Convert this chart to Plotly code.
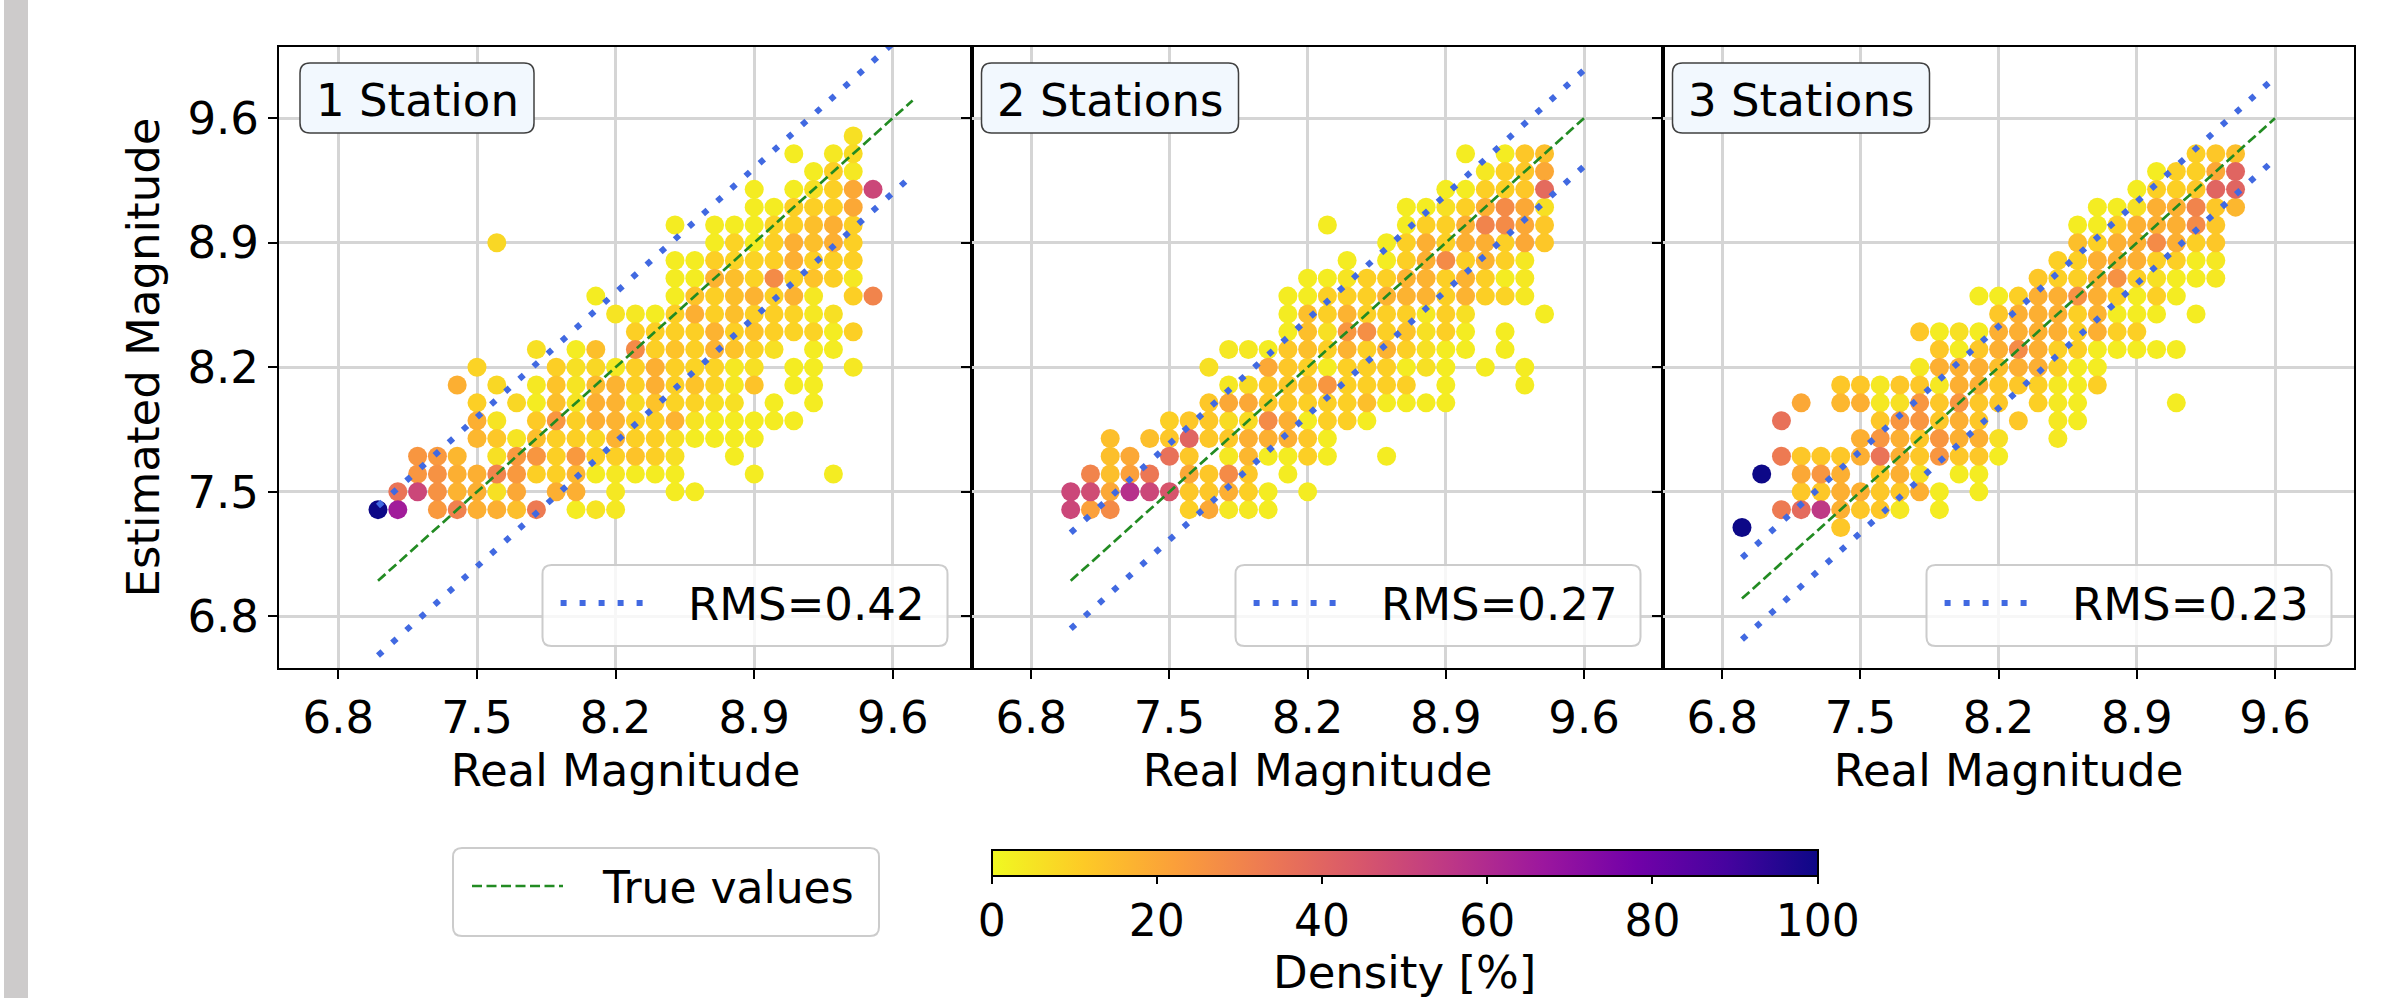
import plotly.graph_objects as go

# ------------------------------------------------------------------ data
panel_titles = ["1 Station", "2 Stations", "3 Stations"]
rms_values = [0.42, 0.27, 0.23]
line_x = [[7.0, 9.7], [7.0, 9.6], [6.9, 9.6]]          # x-extent of reference lines
axis_ticks = [6.8, 7.5, 8.2, 8.9, 9.6]
cbar_ticks = [0, 20, 40, 60, 80, 100]

# Panel 1 (1 station): real magnitude columns, estimated magnitudes, density [%]
p1_real = [7.0, 7.1, 7.2, 7.3, 7.4, 7.5, 7.6, 7.7, 7.8, 7.9, 8.0, 8.1, 8.2,
           8.3, 8.4, 8.5, 8.6, 8.7, 8.8, 8.9, 9.0, 9.1, 9.2, 9.3, 9.4, 9.5]
p1_est = [
    [7.4],
    [7.5, 7.4],
    [7.7, 7.6, 7.5],
    [7.7, 7.6, 7.5, 7.4],
    [8.1, 7.7, 7.6, 7.5, 7.4],
    [8.2, 8.0, 7.9, 7.8, 7.6, 7.5, 7.4],
    [8.9, 8.1, 7.9, 7.8, 7.7, 7.6, 7.5, 7.4],
    [8.0, 7.8, 7.7, 7.6, 7.5, 7.4],
    [8.3, 8.1, 8.0, 7.9, 7.8, 7.7, 7.6, 7.4],
    [8.2, 8.1, 8.0, 7.9, 7.8, 7.7, 7.6, 7.5],
    [8.3, 8.2, 8.1, 8.0, 7.9, 7.8, 7.7, 7.6, 7.5, 7.4],
    [8.6, 8.3, 8.2, 8.1, 8.0, 7.9, 7.8, 7.7, 7.6, 7.4],
    [8.5, 8.2, 8.1, 8.0, 7.9, 7.8, 7.7, 7.6, 7.5, 7.4],
    [8.5, 8.4, 8.3, 8.2, 8.1, 8.0, 7.9, 7.8, 7.7, 7.6],
    [8.5, 8.4, 8.3, 8.2, 8.1, 8.0, 7.9, 7.8, 7.7, 7.6],
    [9.0, 8.8, 8.7, 8.6, 8.5, 8.4, 8.3, 8.2, 8.1, 8.0, 7.9, 7.8, 7.7, 7.6, 7.5],
    [8.8, 8.7, 8.6, 8.5, 8.4, 8.3, 8.2, 8.1, 8.0, 7.9, 7.8, 7.5],
    [9.0, 8.9, 8.8, 8.7, 8.6, 8.5, 8.4, 8.3, 8.2, 8.1, 8.0, 7.9, 7.8],
    [9.0, 8.9, 8.8, 8.7, 8.6, 8.5, 8.4, 8.3, 8.2, 8.1, 8.0, 7.9, 7.8, 7.7],
    [9.2, 9.1, 9.0, 8.9, 8.8, 8.7, 8.6, 8.5, 8.4, 8.3, 8.2, 8.1, 7.9, 7.8, 7.6],
    [9.1, 9.0, 8.9, 8.8, 8.7, 8.6, 8.5, 8.4, 8.3, 8.0, 7.9],
    [9.4, 9.2, 9.1, 9.0, 8.9, 8.8, 8.7, 8.6, 8.5, 8.4, 8.2, 8.1, 7.9],
    [9.3, 9.2, 9.1, 9.0, 8.9, 8.8, 8.7, 8.6, 8.5, 8.4, 8.3, 8.2, 8.1, 8.0],
    [9.4, 9.3, 9.2, 9.1, 9.0, 8.9, 8.8, 8.7, 8.5, 8.4, 8.3, 7.6],
    [9.5, 9.4, 9.3, 9.2, 9.1, 9.0, 8.9, 8.8, 8.7, 8.6, 8.4, 8.2],
    [9.2, 8.6],
]
p1_dens = [
    [100],
    [35, 65],
    [25, 25, 50],
    [24, 26, 26, 24],
    [18, 16, 18, 17, 31],
    [9, 10, 18, 16, 18, 18, 18],
    [8, 8, 5, 12, 6, 30, 6, 18],
    [8, 5, 24, 24, 20, 14],
    [6, 4, 3, 11, 14, 25, 10, 33],
    [10, 13, 14, 25, 10, 10, 10, 18],
    [3, 6, 5, 5, 10, 10, 24, 16, 18, 3],
    [3, 14, 8, 15, 18, 18, 8, 10, 3, 5],
    [5, 4, 17, 17, 17, 17, 10, 4, 4, 4],
    [4, 10, 28, 10, 10, 7, 10, 10, 13, 3],
    [3, 10, 10, 18, 18, 13, 10, 10, 10, 3],
    [3, 3, 3, 3, 10, 10, 13, 10, 10, 9, 17, 6, 6, 3, 3],
    [3, 3, 13, 18, 10, 10, 9, 13, 9, 5, 3, 3],
    [3, 3, 10, 17, 10, 10, 17, 17, 9, 9, 6, 3, 3],
    [3, 9, 9, 14, 14, 14, 10, 13, 4, 4, 6, 3, 3, 3],
    [3, 3, 3, 3, 9, 9, 17, 10, 13, 9, 6, 13, 3, 3, 3],
    [3, 9, 10, 10, 28, 10, 10, 10, 6, 3, 3],
    [3, 3, 10, 10, 18, 18, 10, 17, 9, 9, 3, 3, 3],
    [3, 6, 10, 14, 14, 10, 13, 4, 4, 9, 3, 3, 3, 3],
    [4, 10, 10, 10, 18, 18, 10, 10, 6, 3, 3, 3],
    [6, 7, 4, 20, 20, 10, 10, 10, 4, 10, 10, 4],
    [50, 30],
]

# Panel 2 (2 stations)
p2_real = [7.0, 7.1, 7.2, 7.3, 7.4, 7.5, 7.6, 7.7, 7.8, 7.9, 8.0, 8.1, 8.2,
           8.3, 8.4, 8.5, 8.6, 8.7, 8.8, 8.9, 9.0, 9.1, 9.2, 9.3, 9.4]
p2_est = [
    [7.5, 7.4],
    [7.6, 7.5, 7.4],
    [7.8, 7.7, 7.6, 7.5, 7.4],
    [7.7, 7.6, 7.5],
    [7.8, 7.6, 7.5],
    [7.9, 7.8, 7.7, 7.5],
    [7.9, 7.8, 7.7, 7.6, 7.5, 7.4],
    [8.2, 8.0, 7.9, 7.8, 7.6, 7.5, 7.4],
    [8.3, 8.1, 8.0, 7.9, 7.8, 7.7, 7.6, 7.5, 7.4],
    [8.3, 8.1, 8.0, 7.9, 7.8, 7.7, 7.6, 7.5, 7.4],
    [8.3, 8.2, 8.1, 8.0, 7.9, 7.8, 7.7, 7.5, 7.4],
    [8.6, 8.5, 8.4, 8.3, 8.2, 8.1, 8.0, 7.9, 7.8, 7.7, 7.6],
    [8.7, 8.6, 8.5, 8.4, 8.3, 8.2, 8.1, 8.0, 7.9, 7.8, 7.7, 7.5],
    [9.0, 8.7, 8.6, 8.5, 8.4, 8.3, 8.2, 8.1, 8.0, 7.9, 7.8, 7.7],
    [8.8, 8.7, 8.6, 8.5, 8.4, 8.3, 8.2, 8.1, 8.0, 7.9],
    [8.7, 8.6, 8.5, 8.4, 8.3, 8.2, 8.1, 8.0, 7.9],
    [8.9, 8.8, 8.7, 8.6, 8.5, 8.4, 8.3, 8.2, 8.1, 8.0, 7.7],
    [9.1, 9.0, 8.9, 8.8, 8.7, 8.6, 8.5, 8.4, 8.3, 8.2, 8.1, 8.0],
    [9.1, 9.0, 8.9, 8.8, 8.7, 8.6, 8.5, 8.4, 8.3, 8.2, 8.0],
    [9.2, 9.1, 9.0, 8.9, 8.8, 8.7, 8.6, 8.5, 8.4, 8.3, 8.2, 8.1, 8.0],
    [9.4, 9.2, 9.1, 9.0, 8.9, 8.8, 8.7, 8.6, 8.5, 8.4, 8.3],
    [9.3, 9.2, 9.1, 9.0, 8.9, 8.8, 8.7, 8.6, 8.2],
    [9.4, 9.3, 9.2, 9.1, 9.0, 8.9, 8.8, 8.7, 8.6, 8.4, 8.3],
    [9.4, 9.3, 9.2, 9.1, 9.0, 8.9, 8.8, 8.7, 8.6, 8.2, 8.1],
    [9.4, 9.3, 9.2, 9.1, 9.0, 8.9, 8.5],
]
p2_dens = [
    [50, 50],
    [30, 48, 22],
    [14, 14, 14, 20, 28],
    [20, 22, 58],
    [14, 34, 50],
    [10, 12, 36, 45],
    [12, 40, 12, 20, 12, 10],
    [6, 12, 12, 12, 12, 12, 20],
    [4, 4, 20, 7, 12, 4, 28, 18, 4],
    [4, 7, 20, 7, 18, 16, 12, 10, 4],
    [3, 20, 12, 12, 28, 18, 3, 3, 3],
    [3, 3, 3, 12, 12, 12, 12, 18, 18, 3, 3],
    [3, 3, 14, 14, 14, 10, 14, 10, 3, 12, 10, 3],
    [3, 3, 10, 10, 6, 10, 3, 25, 10, 10, 3, 3],
    [3, 5, 10, 17, 25, 17, 10, 10, 10, 10],
    [10, 10, 10, 27, 10, 10, 10, 14, 3],
    [3, 3, 10, 17, 10, 10, 17, 10, 10, 3, 3],
    [3, 3, 10, 10, 17, 17, 10, 13, 10, 3, 10, 3],
    [3, 10, 18, 18, 17, 17, 4, 6, 6, 6, 3],
    [3, 6, 10, 10, 28, 10, 10, 10, 10, 3, 3, 3, 3],
    [3, 3, 10, 18, 18, 10, 17, 17, 6, 3, 3],
    [4, 10, 18, 30, 18, 17, 10, 10, 3],
    [3, 10, 10, 28, 28, 10, 10, 3, 9, 3, 3],
    [12, 12, 12, 20, 20, 20, 4, 4, 4, 3, 3],
    [14, 20, 38, 6, 12, 12, 3],
]

# Panel 3 (3 stations)
p3_real = [6.9, 7.0, 7.1, 7.2, 7.3, 7.4, 7.5, 7.6, 7.7, 7.8, 7.9, 8.0, 8.1, 8.2,
           8.3, 8.4, 8.5, 8.6, 8.7, 8.8, 8.9, 9.0, 9.1, 9.2, 9.3, 9.4]
p3_est = [
    [7.3],
    [7.6],
    [7.9, 7.7, 7.4],
    [8.0, 7.7, 7.6, 7.5, 7.4],
    [7.7, 7.6, 7.5, 7.4],
    [8.1, 8.0, 7.7, 7.6, 7.5, 7.4, 7.3],
    [8.1, 8.0, 7.8, 7.7, 7.5, 7.4],
    [8.1, 8.0, 7.9, 7.8, 7.7, 7.6, 7.5, 7.4],
    [8.1, 8.0, 7.9, 7.8, 7.7, 7.6, 7.5, 7.4],
    [8.4, 8.2, 8.1, 8.0, 7.9, 7.8, 7.7, 7.6, 7.5],
    [8.4, 8.3, 8.2, 8.1, 8.0, 7.9, 7.8, 7.7, 7.5, 7.4],
    [8.4, 8.3, 8.2, 8.1, 8.0, 7.9, 7.8, 7.7, 7.6],
    [8.6, 8.4, 8.3, 8.2, 8.1, 8.0, 7.9, 7.8, 7.7, 7.6, 7.5],
    [8.6, 8.5, 8.4, 8.3, 8.2, 8.1, 8.0, 7.8, 7.7],
    [8.6, 8.5, 8.4, 8.3, 8.2, 8.1, 7.9],
    [8.7, 8.6, 8.5, 8.4, 8.3, 8.2, 8.1, 8.0],
    [8.8, 8.7, 8.6, 8.5, 8.4, 8.3, 8.2, 8.1, 8.0, 7.9, 7.8],
    [9.0, 8.9, 8.8, 8.7, 8.6, 8.5, 8.4, 8.3, 8.2, 8.1, 8.0, 7.9],
    [9.1, 9.0, 8.9, 8.8, 8.7, 8.6, 8.5, 8.4, 8.3, 8.2, 8.1],
    [9.1, 9.0, 8.9, 8.8, 8.7, 8.6, 8.5, 8.4, 8.3],
    [9.2, 9.1, 9.0, 8.9, 8.8, 8.7, 8.6, 8.5, 8.4, 8.3],
    [9.3, 9.2, 9.1, 9.0, 8.9, 8.8, 8.7, 8.6, 8.5, 8.3],
    [9.3, 9.2, 9.1, 9.0, 8.9, 8.8, 8.7, 8.6, 8.3, 8.0],
    [9.4, 9.3, 9.2, 9.1, 9.0, 8.9, 8.8, 8.7, 8.5],
    [9.4, 9.3, 9.2, 9.1, 9.0, 8.9, 8.8, 8.7],
    [9.4, 9.3, 9.2, 9.1],
]
p3_dens = [
    [100],
    [100],
    [36, 33, 33],
    [20, 12, 20, 12, 38],
    [12, 25, 12, 55],
    [12, 16, 12, 18, 18, 18, 12],
    [12, 18, 18, 18, 18, 12],
    [4, 4, 12, 25, 35, 12, 12, 12],
    [12, 6, 25, 18, 18, 18, 12, 4],
    [12, 4, 12, 25, 25, 12, 12, 6, 18],
    [3, 12, 18, 4, 12, 12, 25, 25, 3, 3],
    [6, 3, 18, 18, 25, 18, 18, 12, 3],
    [3, 3, 12, 18, 18, 12, 12, 18, 12, 3, 3],
    [3, 12, 18, 18, 14, 12, 12, 6, 3],
    [10, 18, 18, 28, 18, 12, 12],
    [12, 18, 18, 18, 18, 18, 10, 10],
    [10, 10, 18, 18, 18, 10, 10, 4, 4, 4, 4],
    [3, 14, 10, 10, 26, 10, 10, 10, 3, 3, 3, 3],
    [3, 3, 10, 18, 18, 18, 17, 18, 3, 3, 10],
    [3, 10, 18, 18, 26, 10, 3, 10, 3],
    [3, 6, 18, 18, 18, 10, 3, 3, 10, 3],
    [3, 10, 18, 18, 28, 10, 6, 10, 3, 3],
    [10, 10, 18, 18, 18, 10, 3, 3, 3, 3],
    [10, 10, 12, 30, 28, 10, 3, 3, 3],
    [12, 20, 40, 12, 12, 12, 4, 4],
    [14, 40, 40, 16],
]

# ------------------------------------------------------------------ layout geometry (pixels)
W, H = 2381, 998
ML, MR, MT, MB = 279, 27, 47, 330
PW, PH = W - ML - MR, H - MT - MB
PANEL_LEFT = [279, 972, 1663]
PANEL_RIGHT = [972, 1663, 2354]
FONT = "DejaVu Sans"
FS = 45
BLUE_DASH = dict(color="#4169E1", width=6, dash="6px,13px")
GREEN_DASH = dict(color="#228B22", width=2.7, dash="10px,4.5px")


def px(x):
    return (x - ML) / PW


def py(y):
    return (H - MB - y) / PH


def rrect_path(x0, y0, x1, y1, r):
    X0, X1, Yt, Yb = px(x0), px(x1), py(y0), py(y1)
    rx, ry = r / PW, r / PH
    return (f"M {X0+rx},{Yb} L {X1-rx},{Yb} Q {X1},{Yb} {X1},{Yb+ry} "
            f"L {X1},{Yt-ry} Q {X1},{Yt} {X1-rx},{Yt} L {X0+rx},{Yt} "
            f"Q {X0},{Yt} {X0},{Yt-ry} L {X0},{Yb+ry} Q {X0},{Yb} {X0+rx},{Yb} Z")


fig = go.Figure()

panels = [(p1_real, p1_est, p1_dens), (p2_real, p2_est, p2_dens), (p3_real, p3_est, p3_dens)]
for i, (reals, ests, dens) in enumerate(panels):
    xs, ys, cs = [], [], []
    for r, col_e, col_d in zip(reals, ests, dens):
        for e, d in zip(col_e, col_d):
            xs.append(r)
            ys.append(e)
            cs.append(d)
    order = sorted(range(len(cs)), key=lambda k: cs[k])
    xs = [xs[k] for k in order]
    ys = [ys[k] for k in order]
    cs = [cs[k] for k in order]
    xa = "x" if i == 0 else f"x{i+1}"
    ya = "y" if i == 0 else f"y{i+1}"
    fig.add_trace(go.Scatter(
        x=xs, y=ys, mode="markers", xaxis=xa, yaxis=ya, showlegend=False,
        marker=dict(size=19, color=cs, coloraxis="coloraxis", line=dict(width=0)),
    ))
    lx = line_x[i]
    rms = rms_values[i]
    fig.add_trace(go.Scatter(
        x=lx, y=lx, mode="lines", xaxis=xa, yaxis=ya, name="True values", showlegend=False,
        line=GREEN_DASH,
    ))
    for sgn in (1, -1):
        fig.add_trace(go.Scatter(
            x=lx, y=[v + sgn * rms for v in lx], mode="lines", xaxis=xa, yaxis=ya,
            name=f"RMS={rms:.2f}", showlegend=False, line=BLUE_DASH,
        ))

# axes
axis_common = dict(
    range=[6.5, 10.0], tickvals=axis_ticks, ticktext=[f"{t:.1f}" for t in axis_ticks],
    showgrid=True, gridcolor="#d5d5d5", gridwidth=2.5, zeroline=False,
    showline=True, linecolor="black", linewidth=2, mirror=True,
    ticks="outside", ticklen=9, tickwidth=2, tickcolor="black",
    tickfont=dict(size=FS, family=FONT, color="black"),
)
layout_axes = {}
for i in range(3):
    dom = [px(PANEL_LEFT[i]), px(PANEL_RIGHT[i])]
    xk = "xaxis" if i == 0 else f"xaxis{i+1}"
    yk = "yaxis" if i == 0 else f"yaxis{i+1}"
    ya = "y" if i == 0 else f"y{i+1}"
    xa = "x" if i == 0 else f"x{i+1}"
    layout_axes[xk] = dict(axis_common, domain=dom, anchor=ya,
                           title=dict(text="Real Magnitude", font=dict(size=FS), standoff=6))
    yd = dict(axis_common, domain=[0, 1], anchor=xa, range=[6.51, 10.0])
    if i == 0:
        yd["title"] = dict(text="Estimated Magnitude", font=dict(size=FS), standoff=14)
    else:
        yd["showticklabels"] = False
    layout_axes[yk] = yd

shapes = []
annotations = []
# gray strip at the far left
shapes.append(dict(type="rect", xref="paper", yref="paper", x0=px(4), x1=px(28),
                   y0=py(H), y1=py(0), fillcolor="#cdcbcb", line=dict(width=0), layer="below"))

title_half_w = [117, 128.5, 128.5]
for i in range(3):
    L = PANEL_LEFT[i]
    # station title box
    cx, cy = L + 138, 98
    hw = title_half_w[i]
    shapes.append(dict(type="path", xref="paper", yref="paper",
                       path=rrect_path(cx - hw, cy - 35, cx + hw, cy + 35, 10),
                       fillcolor="#f2f8fe", line=dict(color="#404040", width=1.5), layer="above"))
    annotations.append(dict(xref="paper", yref="paper", x=px(cx), y=py(cy + 2), text=panel_titles[i],
                            showarrow=False, xanchor="center", yanchor="middle",
                            font=dict(size=FS, family=FONT, color="black")))
    # RMS legend box
    shapes.append(dict(type="path", xref="paper", yref="paper",
                       path=rrect_path(L + 263.5, 565, L + 668.5, 646, 9),
                       fillcolor="rgba(255,255,255,0.8)", line=dict(color="#cccccc", width=2),
                       layer="above"))
    shapes.append(dict(type="line", xref="paper", yref="paper",
                       x0=px(L + 281.6), x1=px(L + 364), y0=py(603), y1=py(603),
                       line=BLUE_DASH, layer="above"))
    annotations.append(dict(xref="paper", yref="paper", x=px(L + 648), y=py(604),
                            text=f"RMS={rms_values[i]:.2f}", showarrow=False,
                            xanchor="right", yanchor="middle",
                            font=dict(size=FS, family=FONT, color="black")))

# "True values" legend
shapes.append(dict(type="path", xref="paper", yref="paper",
                   path=rrect_path(453, 848, 879, 936, 9),
                   fillcolor="white", line=dict(color="#cccccc", width=2), layer="above"))
shapes.append(dict(type="line", xref="paper", yref="paper",
                   x0=px(472), x1=px(563), y0=py(886), y1=py(886),
                   line=GREEN_DASH, layer="above"))
annotations.append(dict(xref="paper", yref="paper", x=px(600), y=py(887), text="True values",
                        showarrow=False, xanchor="left", yanchor="middle",
                        font=dict(size=44, family=FONT, color="black")))

# colorbar title
CB_X0, CB_X1 = 991.6, 1817.7
annotations.append(dict(xref="paper", yref="paper", x=px((CB_X0 + CB_X1) / 2), y=py(972),
                        text="Density [%]", showarrow=False, xanchor="center", yanchor="middle",
                        font=dict(size=FS, family=FONT, color="black")))

fig.update_layout(
    width=W, height=H,
    margin=dict(l=ML, r=MR, t=MT, b=MB, autoexpand=False),
    paper_bgcolor="white", plot_bgcolor="white",
    font=dict(family=FONT, size=FS, color="black"),
    showlegend=False,
    coloraxis=dict(
        colorscale="Plasma", reversescale=True, cmin=0, cmax=100,
        colorbar=dict(
            orientation="h", xref="paper", yref="paper",
            x=px((CB_X0 + CB_X1) / 2), xanchor="center",
            y=py(850), yanchor="top",
            len=CB_X1 - CB_X0, lenmode="pixels", thickness=26, thicknessmode="pixels",
            xpad=0, ypad=0, outlinewidth=2, outlinecolor="black",
            ticks="outside", ticklen=7, tickwidth=2, tickcolor="black",
            tickvals=cbar_ticks, tickfont=dict(size=44, family=FONT),
        ),
    ),
    shapes=shapes,
    annotations=annotations,
    **layout_axes,
)

fig.write_html("out.html")
